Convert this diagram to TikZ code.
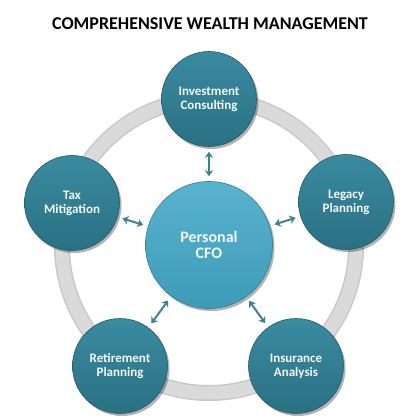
\documentclass[tikz,border=0pt]{standalone}
\usepackage{fontspec}
\setmainfont{Carlito}
\usetikzlibrary{shadows,arrows.meta}
\definecolor{tealA}{HTML}{3A8BA0}
\definecolor{tealB}{HTML}{2A7083}
\definecolor{cfoA}{HTML}{58B3CE}
\definecolor{cfoB}{HTML}{3E9BB8}
\definecolor{arrowc}{HTML}{3D8196}
\definecolor{ringc}{HTML}{DADADA}
\definecolor{ringe}{HTML}{C8C8C8}
\definecolor{txt}{HTML}{F4F8F9}
\tikzset{
  outer/.style={circle, minimum size=95pt, inner sep=0pt, align=center,
    top color=tealA, bottom color=tealB, draw=tealB!80!black, line width=0.6pt,
    text=txt, font=\fontsize{13}{14.2}\selectfont\bfseries,
    drop shadow={shadow xshift=2pt, shadow yshift=-2.5pt, opacity=.3, fill=black}},
  center/.style={circle, minimum size=127pt, inner sep=0pt, align=center,
    top color=cfoA, bottom color=cfoB, draw=cfoB!80!black, line width=0.6pt,
    text=txt, font=\fontsize{16}{16.5}\selectfont\bfseries,
    drop shadow={shadow xshift=2pt, shadow yshift=-2.5pt, opacity=.3, fill=black}},
  link/.style={{Stealth[length=6pt,width=8.5pt]}-{Stealth[length=6pt,width=8.5pt]},
    draw=arrowc, line width=2pt, shorten >=5pt, shorten <=5pt},
  titlestyle/.style={font=\fontsize{18}{20}\selectfont\bfseries, text=black}
}
\begin{document}
\begin{tikzpicture}[x=1pt,y=-1pt]
\useasboundingbox[fill=white] (0,0) rectangle (416,419);
\node[titlestyle] (title) at (210,24) {COMPREHENSIVE WEALTH MANAGEMENT};
% ring
\coordinate (ringc) at (209,246);
\draw[ringe, line width=16pt] (ringc) circle[radius=147pt];
\draw[ringc, line width=13pt] (ringc) circle[radius=147pt];
% nodes
\node[center] (cfo) at (209,245) {Personal\\CFO};
\node[outer] (inv) at (209,99) {Investment\\Consulting};
\node[outer] (leg) at (346,202) {Legacy\\Planning};
\node[outer] (ins) at (296,366) {Insurance\\Analysis};
\node[outer] (ret) at (120,366) {Retirement\\Planning};
\node[outer] (tax) at (72,203) {Tax\\Mitigation};
% links
\draw[link] (cfo) -- (inv);
\draw[link] (cfo) -- (leg);
\draw[link] (cfo) -- (ins);
\draw[link] (cfo) -- (ret);
\draw[link] (cfo) -- (tax);
\end{tikzpicture}
\end{document}
